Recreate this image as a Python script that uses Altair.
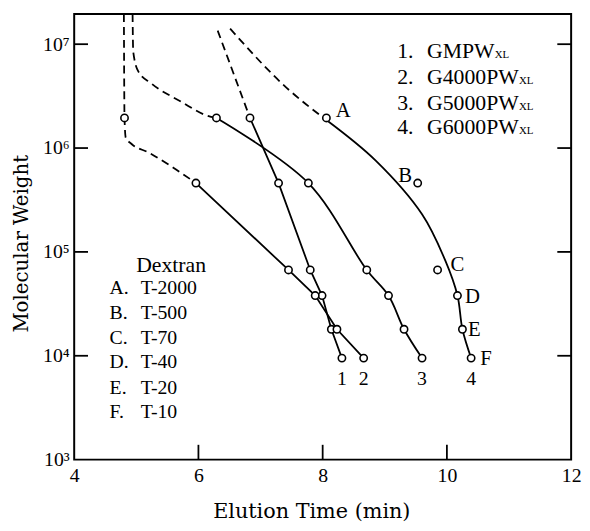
import altair as alt
import pandas as pd

# ---------------- data ----------------
# Dextran standards (molecular weights)
dextran = ["A", "B", "C", "D", "E", "F"]
mw = [1.95e6, 4.6e5, 6.7e4, 3.8e4, 1.8e4, 9.5e3]

# Elution times (min) of the standards on each column
t_gmpw = [6.83, 7.29, 7.80, 7.99, 8.14, 8.31]
t_g4000 = [4.81, 5.96, 7.45, 7.88, 8.23, 8.66]
t_g5000 = [6.29, 7.77, 8.71, 9.06, 9.31, 9.60]
t_g6000 = [8.06, 9.53, 9.85, 10.17, 10.25, 10.39]

# solid calibration curves
c1_t, c1_mw = t_gmpw, mw
c2_t, c2_mw = t_g4000[1:], mw[1:]
c3_t, c3_mw = t_g5000, mw
c4_t = [8.06, 8.85, 9.60, 9.98, 10.17, 10.25, 10.39]
c4_mw = [1.86e6, 7.6e5, 2.3e5, 8.1e4, 3.8e4, 1.8e4, 9.5e3]

# dashed (extrapolated) parts
d1_t, d1_mw = [6.31, 6.83], [1.35e7, 1.95e6]
d2_t = [4.80, 4.81, 4.83, 4.92, 5.19, 5.59, 5.96]
d2_mw = [1.95e7, 1.95e6, 1.26e6, 1.1e6, 9.1e5, 6.5e5, 4.6e5]
d3_t = [4.94, 4.95, 5.03, 5.24, 5.72, 6.15, 6.29]
d3_mw = [1.95e7, 8.5e6, 5.5e6, 4.2e6, 2.8e6, 2.04e6, 1.95e6]
d4_t, d4_mw = [6.51, 7.42, 8.06], [1.41e7, 3.8e6, 1.86e6]

# legend / annotation text
col_num = ["1.", "2.", "3.", "4."]
col_name = ["GMPW", "G4000PW", "G5000PW", "G6000PW"]
curve_num = ["1", "2", "3", "4"]
dex_letter = ["A.", "B.", "C.", "D.", "E.", "F."]
dex_name = ["T-2000", "T-500", "T-70", "T-40", "T-20", "T-10"]

x_ticks = [4, 6, 8, 10, 12]
y_ticks = [1e3, 1e4, 1e5, 1e6, 1e7]

# annotation anchors (data coordinates)
leg_num_t, leg_name_t = 9.20, 9.68
leg_mw = [8.5e6, 4.8e6, 2.7e6, 1.58e6]
leg_sub_t = [10.77, 11.16, 11.16, 11.16]
leg_sub_mw = [7.8e6, 4.4e6, 2.5e6, 1.45e6]
dex_title_pos = (5.56, 7.4e4)
dex_letter_t, dex_name_t = 4.57, 5.07
dex_mw = [4.47e4, 2.57e4, 1.48e4, 8.7e3, 4.9e3, 2.88e3]
pt_label_t = [8.33, 9.33, 10.17, 10.41, 10.44, 10.63]
pt_label_mw = [2.29e6, 5.37e5, 7.4e4, 3.7e4, 1.78e4, 9.3e3]

W, H = 503, 451
SERIF = "Liberation Serif, Times New Roman, serif"
WIDE = "DejaVu Serif, serif"

# ---------------- scales / axes ----------------
xscale = alt.Scale(domain=[4, 12], nice=False, zero=False)
yscale = alt.Scale(type="log", domain=[1e3, 1.95e7], nice=False)

xaxis = alt.Axis(values=x_ticks, ticks=False, domain=False, grid=False, labelFlush=False,
                 labelFont=SERIF, labelFontSize=20, labelPadding=6, labelColor="black",
                 title="Elution Time (min)", titleFont=WIDE, titleFontSize=21,
                 titleFontWeight="normal", titleColor="black", titleX=240, titleY=59,
                 titleBaseline="alphabetic", titleAlign="center")
yaxis = alt.Axis(values=y_ticks, ticks=False, domain=False, grid=False, labelFlush=False,
                 labelExpr="'10' + ['⁰','¹','²','³','⁴','⁵','⁶','⁷','⁸','⁹'][round(log(datum.value)/LN10)]",
                 labelFont=SERIF, labelFontSize=20, labelPadding=5, labelColor="black",
                 title="Molecular Weight", titleFont=WIDE, titleFontSize=20,
                 titleFontWeight="normal", titleColor="black", titleAngle=270, titleX=-47, titleY=232,
                 titleAlign="center", titleBaseline="alphabetic")

X = alt.X("t:Q", scale=xscale, axis=xaxis)
Y = alt.Y("mw:Q", scale=yscale, axis=yaxis)

layers = []


def line(ts, ms, interp, dashed):
    df = pd.DataFrame({"t": ts, "mw": ms, "o": list(range(len(ts)))})
    kw = dict(color="black", strokeWidth=1.8, interpolate=interp, clip=True)
    if dashed:
        kw["strokeDash"] = [8, 5]
    return alt.Chart(df).mark_line(**kw).encode(x=X, y=Y, order=alt.Order("o:Q"))


layers += [
    line(c1_t, c1_mw, "linear", False),
    line(c2_t, c2_mw, "linear", False),
    line(c3_t, c3_mw, "catmull-rom", False),
    line(c4_t, c4_mw, "catmull-rom", False),
    line(d1_t, d1_mw, "linear", True),
    line(d2_t, d2_mw, "monotone", True),
    line(d3_t, d3_mw, "monotone", True),
    line(d4_t, d4_mw, "monotone", True),
]

# inner ticks
ytk = pd.DataFrame({"mw": y_ticks[1:]})
xtk = pd.DataFrame({"t": [6, 8, 10]})
layers += [
    alt.Chart(ytk).mark_rule(color="black", strokeWidth=1.8).encode(y=Y, x=alt.value(0), x2=alt.value(14)),
    alt.Chart(ytk).mark_rule(color="black", strokeWidth=1.8).encode(y=Y, x=alt.value(W - 14), x2=alt.value(W)),
    alt.Chart(xtk).mark_rule(color="black", strokeWidth=1.8).encode(x=X, y=alt.value(H), y2=alt.value(H - 15)),
]

# points
pts = pd.DataFrame({
    "t": t_gmpw + t_g4000 + t_g5000 + t_g6000,
    "mw": mw * 4,
})
layers.append(alt.Chart(pts).mark_point(shape="circle", filled=True, fill="white", stroke="black",
                                         strokeWidth=1.6, size=55, opacity=1).encode(x=X, y=Y))

# point letters on curve 4
lab = pd.DataFrame({"t": pt_label_t, "mw": pt_label_mw, "txt": dextran})
layers.append(alt.Chart(lab).mark_text(font=SERIF, fontSize=21, color="black",
                                        align="center", baseline="middle").encode(x=X, y=Y, text="txt:N"))

# curve numbers under last points
cn = pd.DataFrame({"t": [t_gmpw[-1], t_g4000[-1], t_g5000[-1], t_g6000[-1]],
                   "mw": [mw[-1]] * 4, "txt": curve_num})
layers.append(alt.Chart(cn).mark_text(font=SERIF, fontSize=20, color="black",
                                       align="center", baseline="middle", dy=21).encode(x=X, y=Y, text="txt:N"))

# column legend (top right)
ln = pd.DataFrame({"t": [leg_num_t] * 4, "mw": leg_mw, "txt": col_num})
lnm = pd.DataFrame({"t": [leg_name_t] * 4, "mw": leg_mw, "txt": col_name})
lsub = pd.DataFrame({"t": leg_sub_t, "mw": leg_sub_mw, "txt": ["XL"] * 4})
for d, fs in ((ln, 22), (lnm, 22), (lsub, 11)):
    layers.append(alt.Chart(d).mark_text(font=SERIF, fontSize=fs, color="black",
                                          align="left", baseline="middle").encode(x=X, y=Y, text="txt:N"))

# dextran legend
dt = pd.DataFrame({"t": [dex_title_pos[0]], "mw": [dex_title_pos[1]], "txt": ["Dextran"]})
layers.append(alt.Chart(dt).mark_text(font=SERIF, fontSize=22, color="black",
                                       align="center", baseline="middle").encode(x=X, y=Y, text="txt:N"))
dl = pd.DataFrame({"t": [dex_letter_t] * 6, "mw": dex_mw, "txt": dex_letter})
dn = pd.DataFrame({"t": [dex_name_t] * 6, "mw": dex_mw, "txt": dex_name})
for d in (dl, dn):
    layers.append(alt.Chart(d).mark_text(font=SERIF, fontSize=20, color="black",
                                          align="left", baseline="middle").encode(x=X, y=Y, text="txt:N"))

chart = alt.layer(*layers).properties(
    width=W, height=H,
    autosize=alt.AutoSizeParams(type="none"),
    padding={"left": 67, "top": 3, "right": 11, "bottom": 61},
    background="white",
).configure_view(stroke="black", strokeWidth=2)

chart.save("out.html", embed_options={"renderer": "svg", "actions": False})
